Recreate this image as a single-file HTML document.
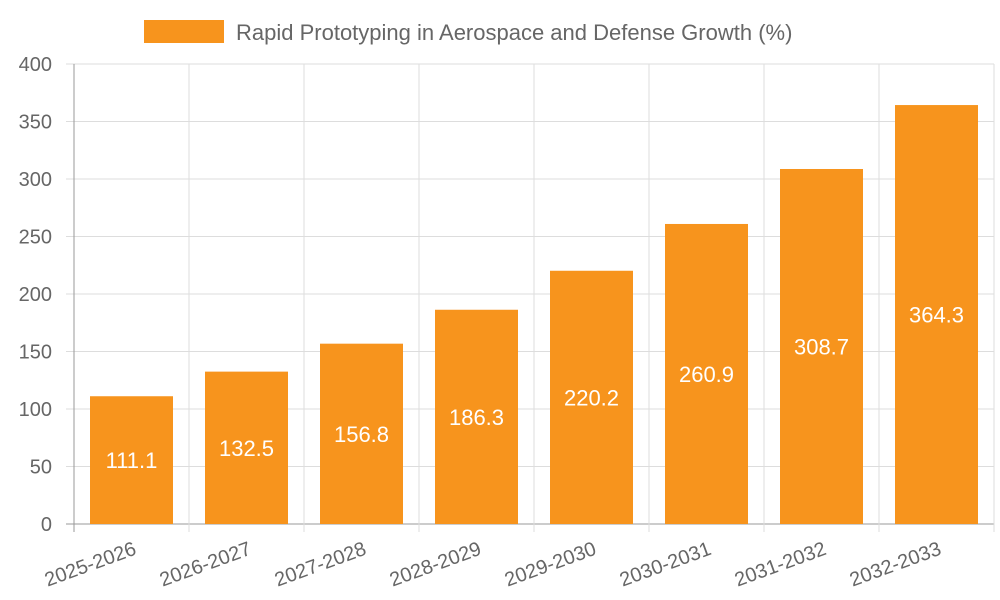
<!DOCTYPE html>
<html><head><meta charset="utf-8"><style>
html,body{margin:0;padding:0;background:#fff;}
svg{display:block;font-family:"Liberation Sans",sans-serif;}
</style></head><body>
<svg id="chart" width="1000" height="600">
<g>
<rect x="144" y="20" width="80" height="23" fill="#f7941d"/>
<text x="236" y="40" font-size="22" fill="#666">Rapid Prototyping in Aerospace and Defense Growth (%)</text>
</g>
<g id="grid"></g><g id="bars"></g><g id="labels"></g>
</svg>
<script>
const categories=["2025-2026","2026-2027","2027-2028","2028-2029","2029-2030","2030-2031","2031-2032","2032-2033"];
const values=[111.1,132.5,156.8,186.3,220.2,260.9,308.7,364.3];
const yTicks=[0,50,100,150,200,250,300,350,400];
const L=74,R=994,T=64,B=524,yMax=400;
const ns="http://www.w3.org/2000/svg";
const bw=(R-L)/categories.length;
function y(v){return B-(v/yMax)*(B-T);}
function x(i){return L+bw*i;}
function mk(tag,attrs,parent,txt){const e=document.createElementNS(ns,tag);for(const k in attrs)e.setAttribute(k,attrs[k]);if(txt!==undefined)e.textContent=txt;parent.appendChild(e);return e;}
const grid=document.getElementById('grid'),bars=document.getElementById('bars'),labels=document.getElementById('labels');
yTicks.forEach(t=>{
  const g=mk('line',{x1:L-8,x2:R,y1:y(t),y2:y(t),stroke:t===0?'#999':'#ddd','stroke-width':1},grid);
  
  
  const tx=mk('text',{x:L-22,y:y(t)+7,'text-anchor':'end','font-size':20,fill:'#666'},grid,String(t));
  
  
});
for(let i=0;i<=categories.length;i++){
  const g=mk('line',{x1:x(i),x2:x(i),y1:T,y2:B+8,stroke:i===0?'#999':'#ddd','stroke-width':1},grid);
  
  
}
categories.forEach((c,i)=>{
  const cx=x(i)+bw/2,w=83;
  const r=mk('rect',{x:cx-w/2,y:y(values[i]),width:w,height:B-y(values[i]),fill:'#f7941d'},bars);
  
  
  const v=mk('text',{x:cx,y:(y(values[i])+B)/2+8,'text-anchor':'middle','font-size':22,fill:'#fff'},labels,values[i].toFixed(1));
  
  
  const lx=cx+6,ly=B+30;
  const t=mk('text',{x:lx,y:ly,'text-anchor':'end','font-size':20,fill:'#666',transform:`rotate(-20 ${lx} ${ly})`},labels,c);
  
  
});
</script>
</body></html>
